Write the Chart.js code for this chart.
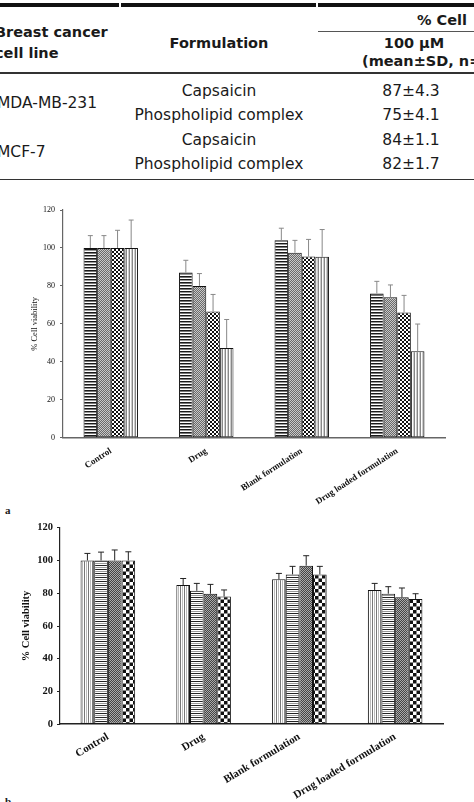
<!DOCTYPE html>
<html>
<head>
<meta charset="utf-8">
<script src="https://cdn.jsdelivr.net/npm/chart.js@4.4.1/dist/chart.umd.min.js"></script>
<style>
  html, body { margin: 0; padding: 0; background: #fff; }
  body { width: 474px; height: 802px; position: relative; overflow: hidden; font-family: "DejaVu Sans", sans-serif; color: #1a1a1a; }
  .t { position: absolute; white-space: nowrap; line-height: 18px; font-size: 15.5px; }
  .b { font-weight: bold; font-size: 14.5px; }
  .c { transform: translateX(-50%); }
  .rule { position: absolute; background: #111; }
  .tag { position: absolute; font-family: "Liberation Serif", serif; font-weight: bold; font-size: 11px; }
  canvas { position: absolute; left: 0; }
</style>
</head>
<body>
<div id="tbl"></div>
<div class="tag" style="left:5px; top:504px;">a</div>
<div class="tag" style="left:5px; top:795px;">b</div>
<canvas id="chartA" width="474" height="310" style="top:195px;"></canvas>
<canvas id="chartB" width="474" height="297" style="top:505px;"></canvas>
<script>
// таблица
const cellLines = ['MDA-MB-231', 'MCF-7'];
const formulations = ['Capsaicin', 'Phospholipid complex'];
const tableValues = [['87±4.3', '75±4.1'], ['84±1.1', '82±1.7']];

// диаграммы
const categories = ['Control', 'Drug', 'Blank formulation', 'Drug loaded formulation'];
const yTicks = [0, 20, 40, 60, 80, 100, 120];

const a1 = [100, 87, 104, 76];
const a2 = [100, 80, 97.5, 74];
const a3 = [100, 66.5, 95.5, 66];
const a4 = [100, 47.3, 95.3, 45.5];
const aErr1 = [6.5, 6.5, 6.4, 6.4];
const aErr2 = [6.5, 6.5, 6.5, 6.5];
const aErr3 = [9.3, 9, 9, 9];
const aErr4 = [14.7, 15, 14.4, 14.4];

const b1 = [100, 85, 88.5, 82];
const b2 = [100, 81.5, 91.5, 79.7];
const b3 = [100, 79.7, 96.8, 77.5];
const b4 = [100, 78, 91.5, 76.5];
const bErr1 = [4.3, 4, 3.6, 4];
const bErr2 = [5.1, 4.5, 4.9, 4.3];
const bErr3 = [6.4, 5.7, 6.1, 5.7];
const bErr4 = [5.3, 4, 4.9, 3.2];

//таблица - разметка
const tbl = document.getElementById('tbl');
function txt(s, x, y, cls) {
    const d = document.createElement('div');
    d.className = 't ' + (cls || '');
    d.textContent = s;
    d.style.left = x + 'px';
    d.style.top = (y - 9) + 'px';
    tbl.appendChild(d);
}
function rule(x, y, w, h, color) {
    const d = document.createElement('div');
    d.className = 'rule';
    d.style.left = x + 'px'; d.style.top = y + 'px';
    d.style.width = w + 'px'; d.style.height = h + 'px';
    if (color) d.style.background = color;
    tbl.appendChild(d);
}
rule(0, 3, 119, 4); rule(121, 3, 195, 4); rule(318, 3, 156, 4);
rule(318, 31, 156, 1, '#555');
rule(0, 72, 474, 1.5, '#333');
rule(0, 179, 474, 1.2, '#333');
txt('Breast cancer', -5, 31.7, 'b');
txt('cell line', -5, 53.3, 'b');
txt('Formulation', 219, 42.7, 'b c');
txt('% Cell', 417, 20, 'b');
txt('100 µM', 414, 43.3, 'b c');
txt('(mean±SD, n=3)', 362, 61, 'b');
const rowY = [[90.7, 115], [140, 164]];
cellLines.forEach((line, i) => {
    txt(line, -3, (rowY[i][0] + rowY[i][1]) / 2, '');
    formulations.forEach((f, j) => {
        txt(f, 219, rowY[i][j], 'c');
        txt(tableValues[i][j], 411, rowY[i][j], 'c');
    });
});

//узоры для столбцов
function makePattern(size, draw) {
    const c = document.createElement('canvas');
    c.width = size; c.height = size;
    const g = c.getContext('2d');
    g.fillStyle = '#fff';
    g.fillRect(0, 0, size, size);
    draw(g);
    return g.createPattern(c, 'repeat');
}
const ctxA = document.getElementById('chartA').getContext('2d');
const hStripes = makePattern(6, g => {
    g.fillStyle = '#1a1a1a'; g.fillRect(0, 0, 6, 1); g.fillRect(0, 3, 6, 1);
    g.fillStyle = '#999'; g.fillRect(0, 1, 6, 1); g.fillStyle = '#777'; g.fillRect(0, 4, 6, 1);
});
const greyMesh = makePattern(2, g => {
    g.fillStyle = '#6a6a6a'; g.fillRect(0, 0, 1, 1); g.fillRect(1, 1, 1, 1);
    g.fillStyle = '#c8c8c8'; g.fillRect(1, 0, 1, 1); g.fillRect(0, 1, 1, 1);
});
const smallChecker = makePattern(4, g => {
    g.fillStyle = '#111'; g.fillRect(0, 0, 2, 2); g.fillRect(2, 2, 2, 2);
});
const vStripes = makePattern(3, g => {
    g.fillStyle = '#888'; g.fillRect(0, 0, 1, 3);
    g.fillStyle = '#ccc'; g.fillRect(2, 0, 1, 3);
});
const vLines = makePattern(4, g => {
    g.fillStyle = '#777'; g.fillRect(0, 0, 1, 4);
    g.fillStyle = '#bbb'; g.fillRect(2, 0, 1, 4);
});
const hLines = makePattern(4, g => {
    g.fillStyle = '#222'; g.fillRect(0, 0, 4, 1);
    g.fillStyle = '#999'; g.fillRect(0, 2, 4, 1);
});
const darkMesh = makePattern(2, g => {
    g.fillStyle = '#444'; g.fillRect(0, 0, 1, 1); g.fillRect(1, 1, 1, 1);
    g.fillStyle = '#aaa'; g.fillRect(1, 0, 1, 1); g.fillRect(0, 1, 1, 1);
});
const bigChecker = makePattern(7, g => {
    g.fillStyle = '#111'; g.fillRect(0, 0, 3.5, 3.5); g.fillRect(3.5, 3.5, 3.5, 3.5);
});

//планки погрешностей
const errorBars = {
    id: 'errorBars',
    afterDatasetsDraw(chart, args, opts) {
        const ctx = chart.ctx;
        const y = chart.scales.y;
        ctx.save();
        ctx.strokeStyle = opts.color;
        ctx.lineWidth = opts.width;
        chart.data.datasets.forEach((ds, i) => {
            chart.getDatasetMeta(i).data.forEach((bar, j) => {
                const top = y.getPixelForValue(ds.data[j] + ds.errors[j]);
                const base = y.getPixelForValue(ds.data[j]);
                ctx.beginPath();
                ctx.moveTo(bar.x, base);
                ctx.lineTo(bar.x, top);
                ctx.moveTo(bar.x - opts.cap, top);
                ctx.lineTo(bar.x + opts.cap, top);
                ctx.stroke();
            });
        });
        ctx.restore();
    }
};

function makeChart(ctx, cfg) {
    const ds = cfg.series.map((s, i) => ({
        data: s,
        errors: cfg.errors[i],
        backgroundColor: cfg.fills[i],
        borderColor: '#111',
        borderWidth: 1,
        borderSkipped: false,
        categoryPercentage: 0.57,
        barPercentage: 1.0
    }));
    return new Chart(ctx, {
        type: 'bar',
        data: { labels: categories, datasets: ds },
        options: {
            responsive: false,
            animation: false,
            layout: { padding: { top: cfg.padTop, right: cfg.padRight, left: 0, bottom: 0 } },
            scales: {
                x: {
                    afterFit: s => { s.height = cfg.xHeight; },
                    grid: { display: false, drawTicks: false },
                    border: { color: cfg.axisColor, width: 1.6 },
                    ticks: {
                        autoSkip: false,
                        minRotation: cfg.rot,
                        maxRotation: cfg.rot,
                        padding: cfg.xPad,
                        color: '#111',
                        font: { family: 'Liberation Serif', size: cfg.xFont, weight: 'bold' }
                    }
                },
                y: {
                    min: 0,
                    max: 120,
                    afterFit: s => { s.width = cfg.yWidth; },
                    afterBuildTicks: s => { s.ticks = yTicks.map(v => ({ value: v })); },
                    grid: { drawOnChartArea: false, tickLength: 3, color: cfg.axisColor },
                    border: { color: cfg.axisColor, width: 1.2 },
                    ticks: {
                        padding: cfg.yPad,
                        color: '#111',
                        font: { family: 'Liberation Serif', size: cfg.tickFont, weight: cfg.tickWeight }
                    },
                    title: {
                        display: true,
                        text: '% Cell viability',
                        color: '#111',
                        padding: { top: cfg.titlePad, bottom: 0 },
                        font: { family: 'Liberation Serif', size: cfg.titleFont, weight: cfg.tickWeight }
                    }
                }
            },
            plugins: {
                legend: { display: false },
                tooltip: { enabled: false },
                errorBars: { color: cfg.errColor, width: 1, cap: cfg.cap }
            }
        },
        plugins: [errorBars]
    });
}

makeChart(ctxA, {
    series: [a1, a2, a3, a4],
    errors: [aErr1, aErr2, aErr3, aErr4],
    fills: [hStripes, greyMesh, smallChecker, vStripes],
    padTop: 15, padRight: 29, xHeight: 67.3, yWidth: 63,
    rot: 33, xPad: 8, xFont: 9, yPad: 5, tickFont: 8, tickWeight: 'normal',
    titleFont: 8.5, titlePad: 30, axisColor: '#666', errColor: '#888', cap: 2.5
});

makeChart(document.getElementById('chartB').getContext('2d'), {
    series: [b1, b2, b3, b4],
    errors: [bErr1, bErr2, bErr3, bErr4],
    fills: [vLines, hLines, darkMesh, bigChecker],
    padTop: 22.7, padRight: 31, xHeight: 77.7, yWidth: 60,
    rot: 31, xPad: 6, xFont: 11, yPad: 4, tickFont: 10.5, tickWeight: 'bold',
    titleFont: 10.5, titlePad: 20, axisColor: '#222', errColor: '#222', cap: 3
});
</script>
</body>
</html>
